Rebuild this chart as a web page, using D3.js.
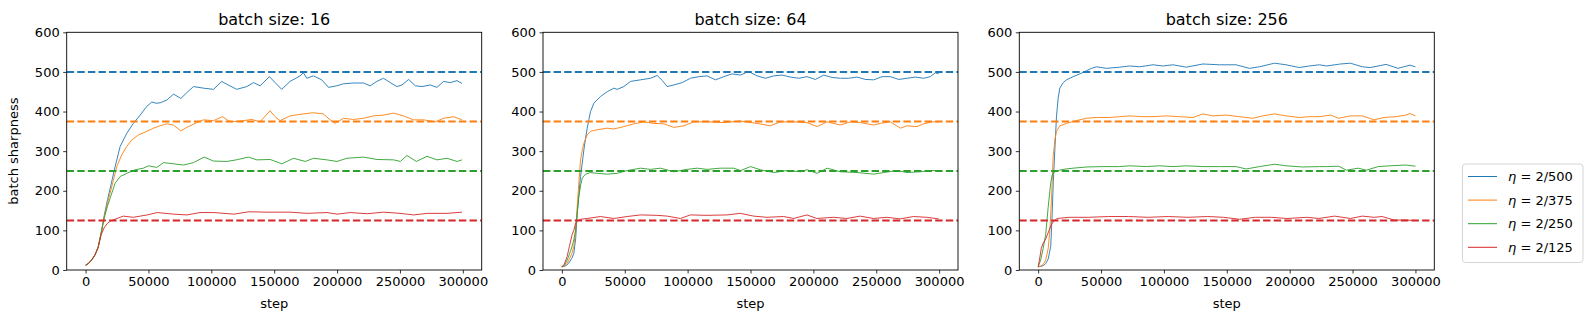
<!DOCTYPE html>
<html>
<head>
<meta charset="utf-8">
<script src="https://cdn.jsdelivr.net/npm/d3@7"></script>
<style>
  html, body { margin: 0; padding: 0; background: #fff; }
  svg { display: block; }
  text { font-family: "DejaVu Sans", sans-serif; fill: #000; }
</style>
</head>
<body>
<svg id="chart" width="1592" height="323"></svg>
<script>
// ---------------- data ----------------
const batchSizes = [16, 64, 256];
const etaLabels = ["2/500", "2/375", "2/250", "2/125"];
const thresholds = [500, 375, 250, 125];
const seriesColors = ["#1f77b4", "#ff7f0e", "#2ca02c", "#d62728"];
const xTicks = [0, 50000, 100000, 150000, 200000, 250000, 300000];
const yTicks = [0, 100, 200, 300, 400, 500, 600];

// batch size 16
const bs16_eta500 = [[0,12],[2500,17],[5000,26],[7500,38],[10000,57],[12500,95],[15000,140],[17500,178],[20000,212],[23500,261],[27500,312],[32800,345],[38000,370],[43400,391],[48700,413],[52700,424],[56000,421],[59300,422],[64600,429],[70000,444],[75800,433],[80600,448],[85800,463],[93800,459],[101700,456],[108300,476],[112300,469],[120200,456],[128200,463],[133500,473],[138800,465],[146200,488],[150700,473],[156000,456],[162600,476],[170600,490],[173200,498],[175900,484],[181200,490],[187800,480],[193200,461],[199800,465],[205100,470],[213000,472],[221000,472],[226300,465],[231600,476],[236900,484],[242300,473],[247600,463],[251600,467],[256900,481],[262200,465],[267500,463],[274100,467],[279400,461],[284700,476],[290000,473],[295300,478],[299300,471]];
const bs16_eta375 = [[0,12],[2500,17],[5000,26],[7500,38],[10000,57],[12500,95],[15000,137],[17500,170],[20000,200],[22150,227],[24800,261],[28800,291],[32800,312],[36700,328],[42000,341],[48700,350],[54000,358],[59300,364],[64600,369],[69900,366],[75800,351],[80500,360],[88500,372],[93800,379],[101700,377],[108900,387],[115000,374],[122900,376],[132200,380],[138800,374],[146700,402],[150700,387],[154700,377],[162600,389],[170600,393],[181200,397],[189100,394],[194400,379],[198400,370],[205100,383],[213000,380],[221000,383],[228900,389],[236900,391],[245000,396],[252900,389],[260800,379],[268800,379],[278100,374],[284700,383],[292700,387],[299300,379]];
const bs16_eta250 = [[0,12],[2500,17],[5000,26],[7500,38],[10000,57],[12500,95],[15000,133],[17500,162],[19500,181],[23500,219],[27500,236],[32800,244],[39400,253],[46000,257],[50000,263],[56600,259],[62000,271],[69900,268],[77900,265],[85800,271],[94300,285],[101700,275],[112300,274],[119800,278],[129600,285],[136200,278],[146800,279],[156100,268],[165400,282],[174700,274],[181300,282],[191900,278],[199900,274],[207800,282],[221100,285],[231700,279],[245000,278],[250300,274],[255600,289],[263000,274],[271500,287],[279500,278],[287400,282],[295400,274],[299400,278]];
const bs16_eta125 = [[0,12],[2500,17],[5000,26],[7500,38],[10000,57],[12500,90],[15000,108],[17500,118],[20000,124],[25000,130],[30000,136],[38000,133],[49000,139],[57000,145],[70000,141],[80600,139],[91000,145],[102000,145],[118000,141],[130000,147],[144000,146],[163000,146],[176000,143],[192000,145],[200000,141],[210600,145],[224000,142],[237000,146],[250000,143],[261000,139],[271600,143],[287500,143],[299300,146]];

// batch size 64
const bs64_eta500 = [[0,8],[2000,9],[4200,13],[6000,20],[8000,30],[9500,42],[11000,80],[12200,140],[13500,190],[14850,236],[16200,270],[17500,303],[18800,332],[20150,358],[21500,380],[22800,400],[25450,421],[30750,438],[36040,450],[41340,459],[44000,456],[49280,463],[54600,476],[62520,480],[70500,484],[75760,491],[80000,478],[83700,463],[89000,467],[95600,473],[102260,484],[108900,488],[115500,490],[122100,480],[128700,488],[135400,495],[142000,492],[148600,501],[155200,490],[161900,484],[168500,490],[175100,492],[181700,487],[188400,484],[195000,488],[201600,481],[208200,492],[214900,486],[221500,484],[228100,484],[234700,487],[241400,481],[248000,480],[254600,488],[261200,488],[267900,481],[274500,484],[281100,487],[287700,484],[293000,488],[297000,498],[299600,495]];
const bs64_eta375 = [[0,8],[2000,10],[4200,17],[6000,28],[8000,42],[9500,59],[11000,100],[12200,160],[13500,220],[14850,278],[16200,302],[17500,320],[20150,341],[22800,350],[28100,354],[36040,358],[41340,356],[49280,362],[57200,369],[65200,374],[73100,370],[81000,369],[89000,360],[97000,364],[104900,374],[115500,374],[128700,372],[142000,376],[155200,370],[165800,364],[173800,374],[184400,374],[195000,372],[203000,362],[210900,374],[221500,366],[229500,374],[237400,372],[248000,366],[253300,370],[261200,374],[269200,358],[274500,364],[282400,362],[287700,369],[294400,374],[299600,374]];
const bs64_eta250 = [[0,8],[2000,12],[4200,25],[6000,40],[8000,58],[9500,76],[10900,101],[12200,145],[13500,185],[14800,212],[16200,232],[18800,242],[22800,246],[28100,244],[36000,242],[44000,244],[52000,251],[62500,257],[70500,254],[78400,257],[89000,248],[99600,254],[107600,257],[115500,254],[126100,257],[136700,257],[142000,251],[150000,261],[157900,253],[168500,246],[179100,251],[189700,248],[195000,253],[203000,244],[210900,257],[221500,248],[234700,246],[248000,242],[256000,246],[266500,251],[274500,246],[285100,248],[293000,251],[299600,251]];
const bs64_eta125 = [[0,8],[2000,15],[4200,34],[6000,60],[8200,90],[9500,100],[10900,118],[12500,125],[14800,128],[20100,130],[30700,135],[41300,130],[51900,135],[62500,139],[75700,138],[83700,136],[94300,130],[102200,139],[115400,138],[131300,139],[141900,143],[152500,136],[163100,133],[176300,135],[184300,130],[194900,139],[202800,130],[216000,133],[226600,130],[237200,136],[247800,130],[258400,133],[269000,129],[279600,135],[290200,133],[299600,129]];

// batch size 256
const bs256_eta500 = [[0,8],[2000,9],[4000,11],[6000,16],[8000,28],[10000,60],[11000,130],[12000,220],[13260,303],[14580,387],[15900,434],[17230,459],[19900,473],[22500,480],[27800,488],[33100,495],[38400,503],[42400,509],[46300,513],[54300,509],[64850,512],[72800,515],[80700,513],[91300,518],[99200,515],[107100,518],[117750,512],[131000,520],[144200,518],[157400,518],[168000,509],[176000,513],[187900,522],[197100,518],[207700,511],[215600,515],[223600,518],[229400,515],[240400,520],[248300,522],[257700,513],[264100,511],[276700,519],[286100,509],[295600,517],[300000,513]];
const bs256_eta375 = [[0,8],[2000,10],[4000,14],[6000,25],[8000,55],[9300,100],[10600,180],[11940,286],[13260,328],[14580,350],[17230,364],[22500,370],[30400,377],[38400,383],[46300,385],[56900,385],[64850,387],[72800,389],[83400,387],[91300,387],[101900,389],[112500,387],[123100,385],[131000,394],[139000,389],[149500,391],[160100,387],[170700,383],[178600,389],[187900,394],[197100,389],[207700,385],[215600,387],[223600,387],[232600,391],[238900,383],[248300,389],[257700,389],[267200,379],[275100,385],[284600,387],[292400,391],[295600,395],[300000,389]];
const bs256_eta250 = [[0,8],[2000,25],[4000,55],[6000,90],[8000,160],[10000,220],[11000,238],[12000,245],[14000,249],[17000,252],[22000,255],[27800,257],[38400,260],[51600,261],[64850,261],[72800,263],[86000,261],[96600,263],[107100,261],[117750,263],[131000,261],[144200,261],[157400,261],[165400,255],[176000,261],[187900,267],[197100,263],[210300,260],[223600,261],[229400,261],[238900,262],[245200,252],[254600,257],[260900,252],[270400,261],[279800,263],[292400,265],[300000,262]];
const bs256_eta125 = [[0,8],[1000,25],[2500,55],[4000,68],[5700,76],[7200,88],[8800,101],[10400,114],[12000,122],[15100,130],[24600,133],[40300,133],[56100,135],[71800,135],[87600,133],[103400,135],[119100,133],[134900,135],[147500,133],[160100,128],[172700,133],[185300,133],[197900,130],[213700,133],[223100,130],[235700,136],[248300,130],[257700,136],[267200,133],[273500,135],[283000,126],[292400,126],[300000,125]];

const panels = [
  [bs16_eta500, bs16_eta375, bs16_eta250, bs16_eta125],
  [bs64_eta500, bs64_eta375, bs64_eta250, bs64_eta125],
  [bs256_eta500, bs256_eta375, bs256_eta250, bs256_eta125]
];

// ---------------- layout ----------------
const svg = d3.select("#chart");
const panelLeft0 = 66.7, panelStep = 476.3, panelW = 415;
const plotTop = 32.3, plotBottom = 270;
const tickFont = 13;

const y = d3.scaleLinear().domain([0, 600]).range([plotBottom, plotTop]);

panels.forEach((series, pi) => {
  const left = panelLeft0 + pi * panelStep;
  const x = d3.scaleLinear().domain([-15000, 315000]).range([left, left + panelW]);
  const g = svg.append("g");

  const clipId = "clip" + pi;
  svg.append("clipPath").attr("id", clipId)
    .append("rect").attr("x", left).attr("y", plotTop).attr("width", panelW).attr("height", plotBottom - plotTop);

  const plot = g.append("g").attr("clip-path", `url(#${clipId})`);
  const line = d3.line().x(d => x(d[0])).y(d => y(d[1]));

  series.forEach((s, si) => {
    plot.append("path").datum(s)
      .attr("d", line)
      .attr("fill", "none")
      .attr("stroke", seriesColors[si])
      .attr("stroke-width", 0.9)
      .attr("stroke-linejoin", "round");
  });

  thresholds.forEach((t, ti) => {
    plot.append("line")
      .attr("x1", left).attr("x2", left + panelW)
      .attr("y1", y(t)).attr("y2", y(t))
      .attr("stroke", seriesColors[ti])
      .attr("stroke-width", 2)
      .attr("stroke-dasharray", "7.4,3.2");
  });

  // axes
  const xAxis = d3.axisBottom(x).tickValues(xTicks).tickFormat(d3.format("d")).tickSize(3.5).tickPadding(3.5);
  const yAxis = d3.axisLeft(y).tickValues(yTicks).tickFormat(d3.format("d")).tickSize(3.5).tickPadding(3.5);

  const gx = g.append("g").attr("transform", `translate(0,${plotBottom})`).call(xAxis);
  const gy = g.append("g").attr("transform", `translate(${left},0)`).call(yAxis);
  [gx, gy].forEach(a => {
    a.select(".domain").remove();
    a.selectAll(".tick line").attr("stroke", "#000").attr("stroke-width", 0.8);
    a.selectAll(".tick text").attr("font-size", tickFont).attr("font-family", "DejaVu Sans").attr("fill", "#000");
  });

  g.append("rect")
    .attr("x", left).attr("y", plotTop).attr("width", panelW).attr("height", plotBottom - plotTop)
    .attr("fill", "none").attr("stroke", "#000").attr("stroke-width", 0.9);

  g.append("text")
    .attr("x", left + panelW / 2).attr("y", 25)
    .attr("text-anchor", "middle").attr("font-size", 16)
    .text("batch size: " + batchSizes[pi]);

  g.append("text")
    .attr("x", left + panelW / 2).attr("y", 308)
    .attr("text-anchor", "middle").attr("font-size", tickFont)
    .text("step");

  if (pi === 0) {
    g.append("text")
      .attr("transform", `translate(18,${(plotTop + plotBottom) / 2}) rotate(-90)`)
      .attr("text-anchor", "middle").attr("font-size", tickFont)
      .text("batch sharpness");
  }
});

// ---------------- legend ----------------
const lg = svg.append("g");
const lgX = 1462.5, lgY = 164, lgW = 120.5, lgH = 98.5;
lg.append("rect")
  .attr("x", lgX).attr("y", lgY).attr("width", lgW).attr("height", lgH)
  .attr("rx", 3).attr("ry", 3)
  .attr("fill", "#fff").attr("stroke", "#d6d6d6").attr("stroke-width", 1);

etaLabels.forEach((lab, i) => {
  const cy = 176.5 + i * 23.6;
  lg.append("line")
    .attr("x1", 1468).attr("x2", 1497)
    .attr("y1", cy).attr("y2", cy)
    .attr("stroke", seriesColors[i]).attr("stroke-width", 1);
  const t = lg.append("text")
    .attr("x", 1508).attr("y", cy + 4.6)
    .attr("font-size", tickFont);
  t.append("tspan").attr("font-style", "italic").text("η");
  t.append("tspan").text(" = " + lab);
});
</script>
</body>
</html>
